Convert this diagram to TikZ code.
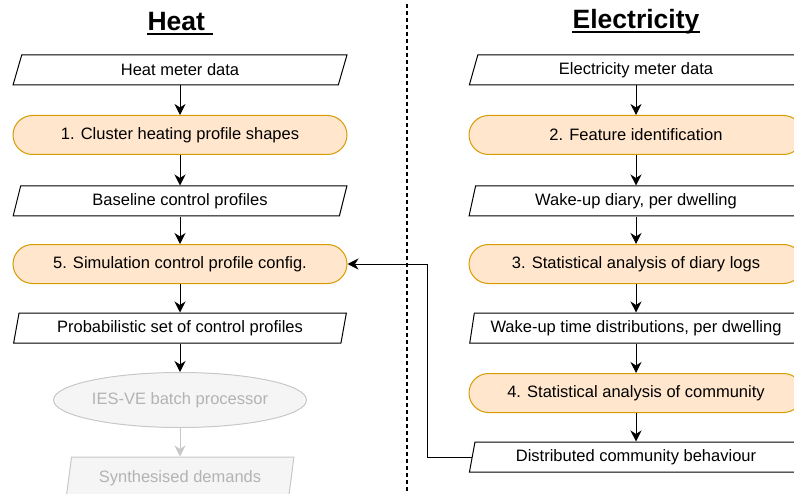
\documentclass[tikz,border=0pt]{standalone}
\usepackage{fontspec}
\setmainfont{Liberation Sans}
\usetikzlibrary{shapes.geometric,arrows.meta}
\definecolor{stepfill}{HTML}{FFE6CC}
\definecolor{stepline}{HTML}{D79B00}
\definecolor{offfill}{HTML}{F5F5F5}
\definecolor{offline}{HTML}{C8C8C8}
\definecolor{offtext}{HTML}{B3B3B3}

\begin{document}
\begin{tikzpicture}[x=1pt,y=-1pt,line width=1pt,
    every node/.style={font=\fontsize{16.5}{19}\selectfont,inner sep=0},
    title/.style={font=\bfseries\fontsize{26.5}{30}\selectfont},
    data/.style={draw,fill=white,trapezium,trapezium left angle=75,trapezium right angle=105,
      trapezium stretches=true,minimum width=334,minimum height=30},
    stepbox/.style={draw=stepline,fill=stepfill,rectangle,rounded corners=19.5pt,
      minimum width=334,minimum height=39},
    flow/.style={-{Stealth[length=11pt,width=11pt,inset=3.5pt]}}]
  \useasboundingbox (0,0) rectangle (794,494);
  \clip (0,0) rectangle (794,494);
  % heat
  \node[title] (heat) at (180,22) {Heat\kern7.5pt};
  \node[data] (hmd) at (180,70) {Heat meter data};
  \node[stepbox] (s1) at (180,135) {1. Cluster heating profile shapes};
  \node[data] (base) at (180,201) {Baseline control profiles};
  \node[stepbox] (s5) at (180,264) {5. Simulation control profile config.};
  \node[data] (prob) at (180,328) {Probabilistic set of control profiles};
  \node[draw=offline,fill=offfill,text=offtext,ellipse,minimum width=253,minimum height=55] (ies) at (180,400) {IES-VE batch processor};
  \node[data,draw=offline,fill=offfill,text=offtext,minimum width=228,minimum height=42] (synth) at (180,478) {Synthesised demands};
  % electricity
  \node[title] (elec) at (636,22) {Electricity};
  \node[data] (emd) at (636,70) {Electricity meter data};
  \node[stepbox] (s2) at (636,135) {2. Feature identification};
  \node[data] (diary) at (636,201) {Wake-up diary, per dwelling};
  \node[stepbox] (s3) at (636,264) {3. Statistical analysis of diary logs};
  \node[data] (wake) at (636,328) {Wake-up time distributions, per dwelling};
  \node[stepbox] (s4) at (636,393) {4. Statistical analysis of community};
  \node[data] (dist) at (636,457) {Distributed community behaviour};
  % title underlines
  \draw[line width=2pt] ([yshift=-3pt]heat.base west) -- ([yshift=-3pt]heat.base east);
  \draw[line width=2pt] ([yshift=-3pt]elec.base west) -- ([yshift=-3pt]elec.base east);
  \coordinate (top) at (407,4);
  \coordinate (bot) at (407,494);
  \draw[dash pattern=on 4pt off 3pt,line width=1.2pt] (top) -- (bot);
  \draw[flow] (hmd) -- (s1);
  \draw[flow] (s1) -- (base);
  \draw[flow] (base) -- (s5);
  \draw[flow] (s5) -- (prob);
  \draw[flow] (prob) -- (ies);
  \draw[flow,draw=offline] (ies) -- (synth);
  \draw[flow] (emd) -- (s2);
  \draw[flow] (s2) -- (diary);
  \draw[flow] (diary) -- (s3);
  \draw[flow] (s3) -- (wake);
  \draw[flow] (wake) -- (s4);
  \draw[flow] (s4) -- (dist);
  \draw[flow] (dist.west) -- ++(-44,0) |- (s5.east);
\end{tikzpicture}
\end{document}
